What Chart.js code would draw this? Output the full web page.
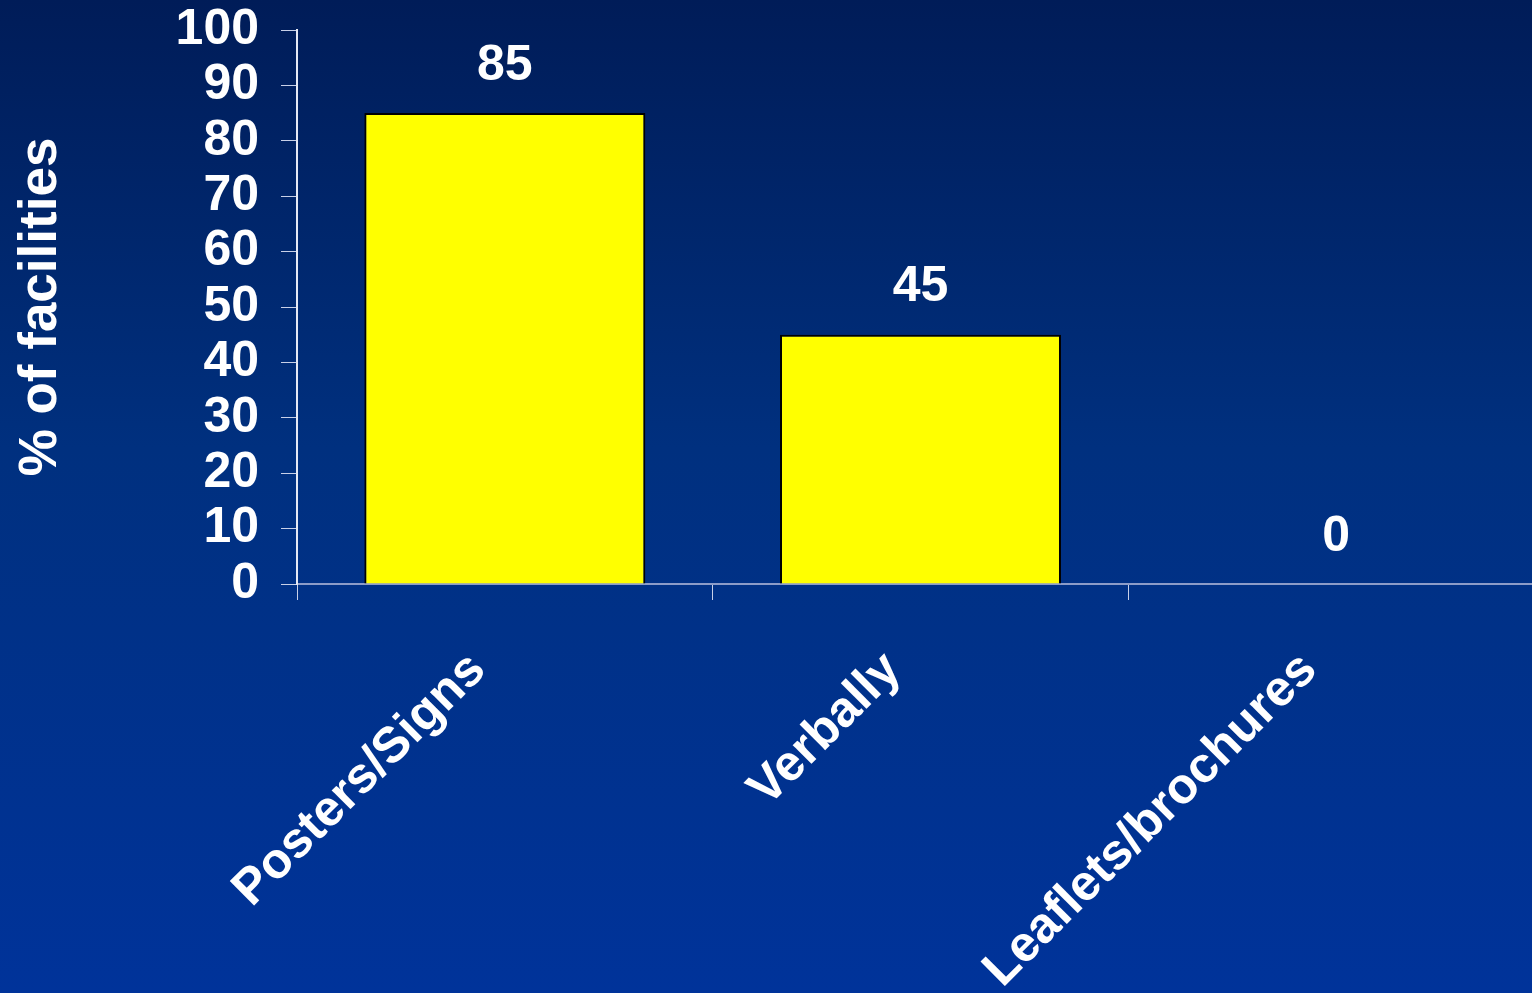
<!DOCTYPE html>
<html>
<head>
<meta charset="utf-8">
<title>% of facilities</title>
<script src="https://cdn.jsdelivr.net/npm/chart.js"></script>
<style>
  html, body { margin: 0; padding: 0; }
  body {
    width: 1532px;
    height: 993px;
    overflow: hidden;
    background: linear-gradient(to bottom, #001c58 0%, #00307f 45%, #00339a 100%);
  }
  #wrap { position: relative; width: 1532px; height: 993px; overflow: hidden; }
  canvas { display: block; }
</style>
</head>
<body>
<div id="wrap"><canvas id="methods" width="1544" height="993"></canvas></div>
<script>
const categories = ['Posters/Signs', 'Verbally', 'Leaflets/brochures'];
const facilityPct = [85, 45, 0];
const yTicks = [0, 10, 20, 30, 40, 50, 60, 70, 80, 90, 100];

const FONT = '"Liberation Sans", Arial, sans-serif';

// numbers above each bar, placed from the bar element's own position
const valueLabels = {
  id: 'valueLabels',
  afterDatasetsDraw(chart) {
    const ctx = chart.ctx;
    const meta = chart.getDatasetMeta(0);
    ctx.save();
    ctx.fillStyle = '#ffffff';
    ctx.font = 'bold 50px ' + FONT;
    ctx.textAlign = 'center';
    ctx.textBaseline = 'middle';
    meta.data.forEach((bar, i) => {
      ctx.fillText(String(facilityPct[i]), bar.x, bar.y - 47);
    });
    ctx.restore();
  }
};

new Chart(document.getElementById('methods'), {
  type: 'bar',
  data: {
    labels: categories,
    datasets: [{
      data: facilityPct,
      backgroundColor: '#ffff00',
      borderColor: '#000000',
      borderWidth: 2,
      borderSkipped: 'bottom',
      barPercentage: 0.676,
      categoryPercentage: 1
    }]
  },
  options: {
    responsive: false,
    animation: false,
    devicePixelRatio: 1,
    layout: { padding: { top: 30, right: 0, left: 0, bottom: 0 } },
    plugins: {
      legend: { display: false },
      tooltip: { enabled: false }
    },
    scales: {
      x: {
        grid: {
          display: true,
          drawOnChartArea: false,
          drawTicks: true,
          tickLength: 16,
          color: '#c8d0e8',
          offset: true
        },
        border: { display: true, color: '#8c9cc8', width: 2 },
        ticks: {
          color: '#ffffff',
          font: { family: FONT, size: 50, weight: 'bold' },
          maxRotation: 45,
          minRotation: 45,
          autoSkip: false,
          labelOffset: -27,
          padding: 41
        },
        afterFit(scale) {
          scale.height = 993 - 584;
          scale.paddingLeft = 0;
          scale.paddingRight = 0;
        }
      },
      y: {
        min: 0,
        max: 100,
        afterBuildTicks(scale) {
          scale.ticks = yTicks.map(v => ({ value: v }));
        },
        grid: {
          display: true,
          drawOnChartArea: false,
          drawTicks: true,
          tickLength: 16,
          color: '#c8d0e8'
        },
        border: { display: true, color: '#e4e8f4', width: 2 },
        ticks: {
          color: '#ffffff',
          font: { family: FONT, size: 50, weight: 'bold' },
          autoSkip: false,
          padding: 22
        },
        title: {
          display: true,
          text: '% of facilities',
          color: '#ffffff',
          font: { family: FONT, size: 53, weight: 'bold' },
          padding: { top: 10, bottom: 0 }
        },
        afterFit(scale) {
          scale.width = 297;
          scale.paddingTop = 0;
          scale.paddingBottom = 0;
        }
      }
    }
  },
  plugins: [valueLabels]
});
</script>
</body>
</html>
